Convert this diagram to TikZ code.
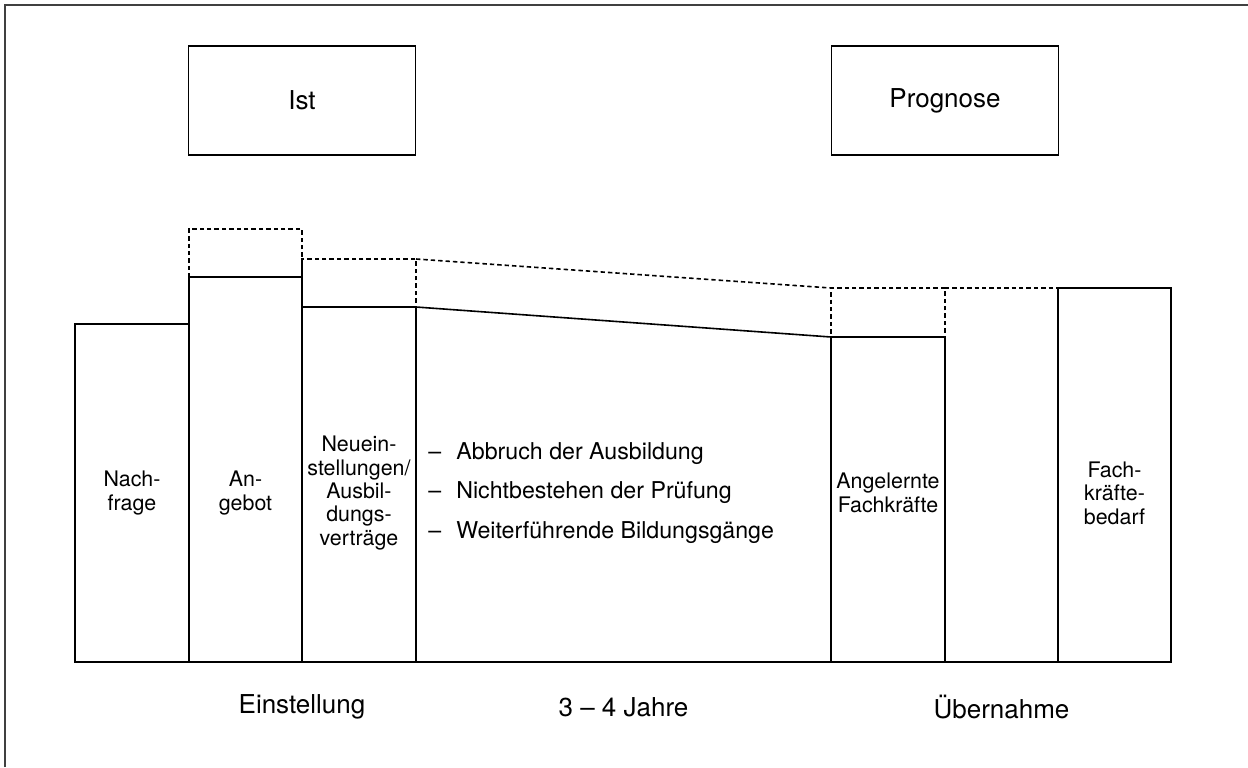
\documentclass[tikz,border=0pt]{standalone}
\usepackage{fontspec}
\setmainfont{TeX Gyre Heros}
\usetikzlibrary{positioning, calc}
\tikzstyle{column} = [rectangle, draw=black, line width=0.8pt, minimum width=57pt, anchor=south west, inner sep=0pt, outer sep=0pt]
\tikzstyle{gapbox} = [rectangle, draw=black, line width=0.8pt, dash pattern=on 2.2pt off 1.5pt, minimum width=57pt, anchor=south west, inner sep=0pt, outer sep=0pt]
\tikzstyle{headbox} = [rectangle, draw=black, line width=0.8pt, minimum width=113.5pt, minimum height=54.5pt, font=\fontsize{13}{15}\selectfont]
\tikzstyle{coltext} = [align=center, inner sep=0pt, font=\fontsize{10.7}{11.7}\selectfont]
\tikzstyle{listtext} = [align=left, anchor=west, inner sep=0pt, font=\fontsize{11.6}{19.75}\selectfont]
\tikzstyle{phase} = [inner sep=0pt, font=\fontsize{13}{15}\selectfont]
\tikzstyle{solidline} = [line width=0.8pt]
\tikzstyle{dashline} = [line width=0.8pt, dash pattern=on 2.2pt off 1.5pt]

\begin{document}
\begin{tikzpicture}[x=0.5pt, y=-0.5pt]
\useasboundingbox (0,0) rectangle (1248,767);
\draw [line width=1pt, black!75] (5,767) -- (5,5) -- (1248,5);
% columns
\node (nachfrage) [column, minimum height=169pt] at (75,662) {};
\node (angebot) [column, minimum width=56.5pt, minimum height=192.5pt] at (nachfrage.south east) {};
\node (neu) [column, minimum height=177.5pt] at (angebot.south east) {};
\node (angelernte) [column, minimum height=162.5pt] at (831,662) {};
\node (bedarf) [column, minimum width=56.5pt, minimum height=187pt] at ([xshift=56.5pt]angelernte.south east) {};
% dashed parts
\node (angebotgap) [gapbox, minimum width=56.5pt, minimum height=24pt] at (angebot.north west) {};
\node (neugap) [gapbox, minimum height=24pt] at (neu.north west) {};
\node (angelerntegap) [gapbox, minimum height=24.5pt] at (angelernte.north west) {};
\draw [dashline] (neugap.north east) -- (angelerntegap.north west);
\draw [dashline] (angelerntegap.north east) -- (bedarf.north west);
\draw [solidline] (neu.north east) -- (angelernte.north west);
\draw [solidline] (nachfrage.south west) -- (bedarf.south east);
% head boxes
\coordinate (headrow) at (0,100.5);
\node (ist) [headbox] at (angebot.south east |- headrow) {Ist};
\node (prognose) [headbox] at (angelernte.south east |- headrow) {Prognose};
% texts
\coordinate (textrow) at (0,493);
\coordinate (phaserow) at (0,707);
\coordinate (dauermitte) at ($(neu.south east)!0.5!(angelernte.south west)$);
\coordinate (uebernahmemitte) at ($(angelernte.south east)!0.5!(bedarf.south west)$);
\node (nachfragetext) [coltext] at (nachfrage |- textrow) {Nach-\\frage};
\node (angebottext) [coltext] at (angebot |- textrow) {An-\\gebot};
\node (neutext) [coltext] at (neu |- textrow) {Neuein-\\stellungen/\\Ausbil-\\dungs-\\verträge};
\node (angelernttext) [coltext] at (angelernte |- textrow) {Angelernte\\Fachkräfte};
\node (bedarftext) [coltext] at (bedarf |- textrow) {Fach-\\kräfte-\\bedarf};
\node (gruende) [listtext] at (428,493) {–\hspace{7.5pt}Abbruch der Ausbildung\\–\hspace{7.5pt}Nichtbestehen der Prüfung\\–\hspace{7.5pt}Weiterführende Bildungsgänge};
\node (einstellung) [phase] at (angebot.south east |- phaserow) {Einstellung};
\node (dauer) [phase] at (dauermitte |- phaserow) {3 – 4 Jahre};
\node (uebernahme) [phase] at (uebernahmemitte |- phaserow) {Übernahme};
\end{tikzpicture}
\end{document}
